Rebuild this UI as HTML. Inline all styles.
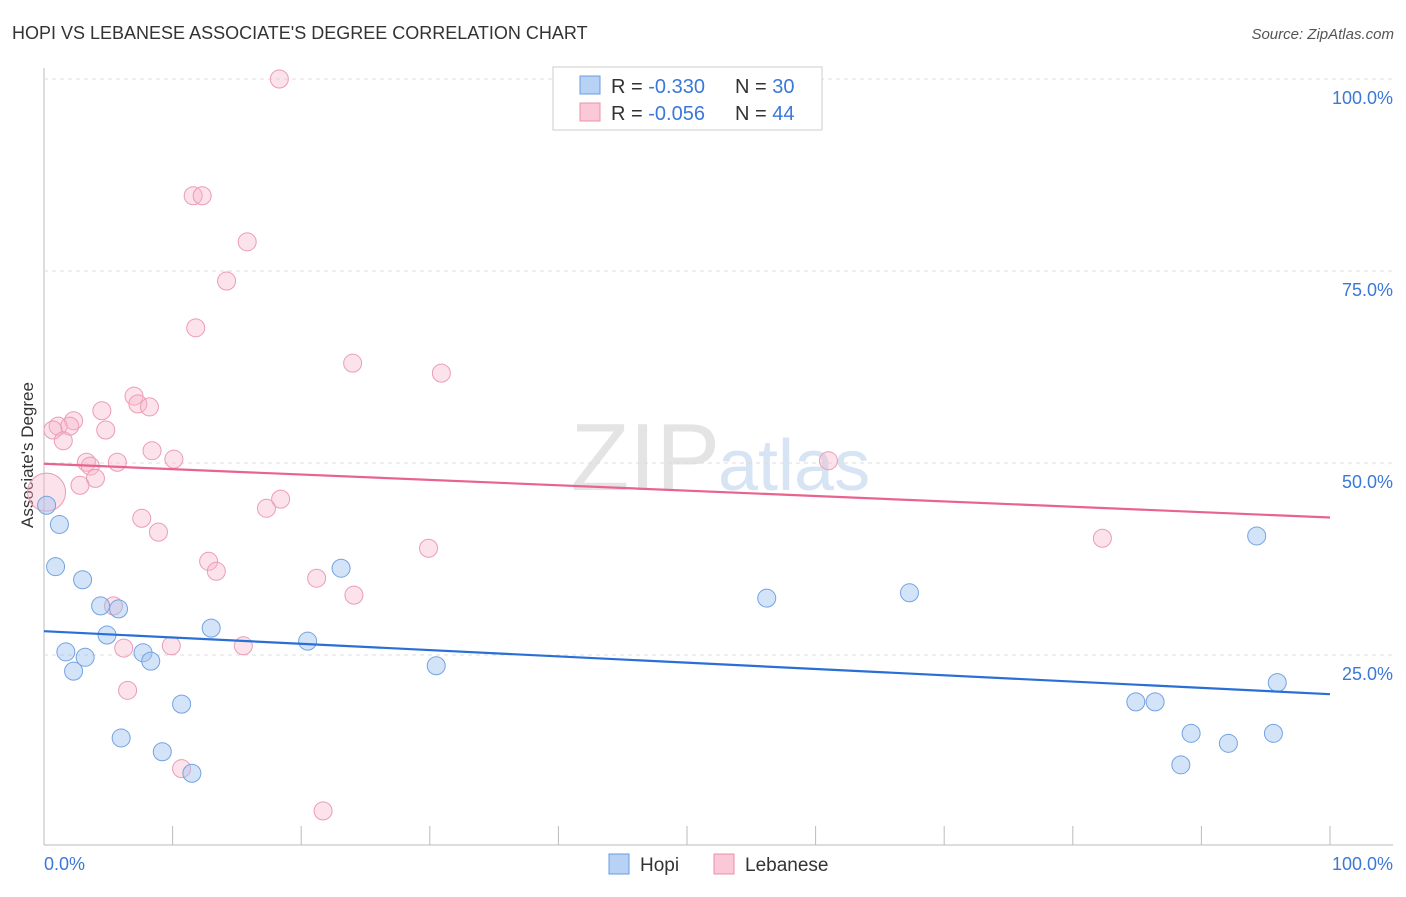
<!DOCTYPE html>
<html><head><meta charset="utf-8"><style>
body{margin:0;background:#fff;font-family:"Liberation Sans",sans-serif;}
svg text{font-family:"Liberation Sans",sans-serif;}
</style></head><body>
<svg id="c" width="1406" height="892">
<text x="12" y="39" font-size="18" fill="#333">HOPI VS LEBANESE ASSOCIATE'S DEGREE CORRELATION CHART</text>
<text x="1394" y="39" font-size="15" fill="#555" font-style="italic" text-anchor="end">Source: ZipAtlas.com</text>
<text x="33" y="455" font-size="17" fill="#333" text-anchor="middle" transform="rotate(-90 33 455)">Associate's Degree</text>
<text x="720" y="490" font-size="96" fill="#e4e4e4" text-anchor="end" font-family="Liberation Serif">ZIP</text>
<text x="718" y="490" font-size="72" fill="#d6e4f4">atlas</text>
<g id="grid"></g><g id="pts"></g><g id="lines"></g>
<g>
<rect x="553" y="67" width="269" height="63" fill="#fff" stroke="#ccc"/>
<rect x="580" y="76" width="20" height="18" fill="#b7d2f5" stroke="#6b9be0"/>
<rect x="580" y="103" width="20" height="18" fill="#fbc8d8" stroke="#e890a8"/>
<text x="611" y="93" font-size="20" fill="#333">R = <tspan fill="#3b78d8">-0.330</tspan></text>
<text x="735" y="93" font-size="20" fill="#333">N = <tspan fill="#3b78d8">30</tspan></text>
<text x="611" y="120" font-size="20" fill="#333">R = <tspan fill="#3b78d8">-0.056</tspan></text>
<text x="735" y="120" font-size="20" fill="#333">N = <tspan fill="#3b78d8">44</tspan></text>
</g>
<g>
<rect x="609" y="854" width="20" height="20" fill="#b7d2f5" stroke="#6b9be0"/>
<text x="640" y="871" font-size="19" fill="#333">Hopi</text>
<rect x="714" y="854" width="20" height="20" fill="#fbc8d8" stroke="#e890a8"/>
<text x="745" y="871" font-size="19" fill="#333">Lebanese</text>
</g>
</svg>
<script>
const yTicks=[25,50,75,100];
const yTickLabels=["25.0%","50.0%","75.0%","100.0%"];
const xTickLabels=["0.0%","100.0%"];
const hopiX=[0.2,1.2,0.9,3.0,4.4,5.8,4.9,1.7,3.2,2.3,7.7,8.3,13.0,10.7,6.0,9.2,11.5,20.5,23.1,30.5,56.2,67.3,84.9,86.4,89.2,88.4,92.1,94.3,95.6,95.9];
const hopiY=[44.5,42.0,36.5,34.8,31.4,31.0,27.6,25.4,24.7,22.9,25.3,24.2,28.5,18.6,14.2,12.4,9.6,26.8,36.3,23.6,32.4,33.1,18.9,18.9,14.8,10.7,13.5,40.5,14.8,21.4];
const lebX=[18.3,11.6,12.3,15.8,14.2,11.8,24.0,30.9,7.0,7.3,8.2,4.5,2.3,1.1,2.0,0.7,4.8,1.5,8.4,10.1,5.7,3.3,3.6,4.0,2.8,0.2,18.4,17.3,7.6,8.9,61.0,82.3,29.9,12.8,13.4,21.2,24.1,5.4,6.2,9.9,15.5,6.5,10.7,21.7];
const lebY=[100,84.8,84.8,78.8,73.7,67.6,63.0,61.7,58.7,57.7,57.3,56.8,55.5,54.8,54.8,54.3,54.3,52.9,51.6,50.5,50.1,50.1,49.6,48.0,47.1,46.2,45.3,44.1,42.8,41.0,50.3,40.2,38.9,37.2,35.9,35.0,32.8,31.4,25.9,26.2,26.2,20.4,10.2,4.7];
const lebBig=[25];
const hopiTrend=[28.1,19.9];
const lebTrend=[49.9,42.9];
const NS="http://www.w3.org/2000/svg";
const X=v=>44+v*12.86, Y=v=>847-v*7.68;
function mk(t,a,p){const e=document.createElementNS(NS,t);for(const k in a)e.setAttribute(k,a[k]);p.appendChild(e);return e;}
const g=document.getElementById('grid');
let ax=mk('line',{x1:44,y1:68,x2:44,y2:845,stroke:'#bbb'},g);

let bx=mk('line',{x1:44,y1:845,x2:1393,y2:845,stroke:'#bbb'},g);

yTicks.forEach((t,i)=>{
 const l=mk('line',{x1:44,y1:Y(t),x2:1393,y2:Y(t),stroke:'#ddd','stroke-dasharray':'4 4'},g);
 
 const tx=mk('text',{x:1393,y:Y(t)+25,'font-size':18,fill:'#3b78d8','text-anchor':'end'},g);tx.textContent=yTickLabels[i];
 
});
for(let i=0;i<=10;i++){const l=mk('line',{x1:X(i*10),y1:826,x2:X(i*10),y2:845,stroke:'#bbb'},g);
 }
[[0,'start',44],[100,'end',1393]].forEach((a,i)=>{const t=mk('text',{x:a[2],y:870,'font-size':18,fill:'#3b78d8','text-anchor':a[1]},g);t.textContent=xTickLabels[i];
 });
const p=document.getElementById('pts');
lebX.forEach((v,i)=>{const c=mk('circle',{cx:X(v),cy:Y(lebY[i]),r:lebBig.includes(i)?19:9,fill:'rgba(248,182,202,0.38)',stroke:'#eb9cb4','stroke-width':1},p);
 });
hopiX.forEach((v,i)=>{const c=mk('circle',{cx:X(v),cy:Y(hopiY[i]),r:9,fill:'rgba(160,196,240,0.45)',stroke:'#74a2e2','stroke-width':1},p);
 });
const L=document.getElementById('lines');
let t1=mk('line',{x1:X(0),y1:Y(lebTrend[0]),x2:X(100),y2:Y(lebTrend[1]),stroke:'#e8648e','stroke-width':2.2},L);

let t2=mk('line',{x1:X(0),y1:Y(hopiTrend[0]),x2:X(100),y2:Y(hopiTrend[1]),stroke:'#2a6fd6','stroke-width':2.2},L);

</script>
</body></html>
